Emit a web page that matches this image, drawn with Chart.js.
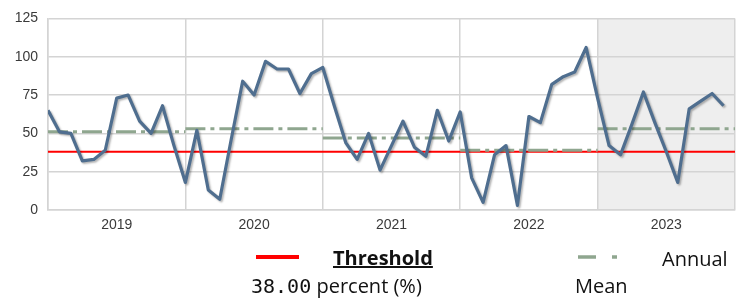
<!DOCTYPE html>
<html>
<head>
<meta charset="utf-8">
<script src="https://cdn.jsdelivr.net/npm/chart.js@4.4.1/dist/chart.umd.min.js"></script>
<style>
html,body{margin:0;padding:0;background:#fff;}
#wrap{position:relative;width:742px;height:302px;overflow:hidden;font-family:"Open Sans",sans-serif;color:#111;}
#chartBox{position:absolute;left:0;top:0;width:742px;height:240px;}
.lg{position:absolute;font-size:20px;line-height:20px;white-space:nowrap;}
.mono{font-family:"DejaVu Sans Mono",monospace;}
svg{position:absolute;left:0;top:0;}
</style>
</head>
<body>
<div id="wrap">
  <div id="chartBox"><canvas id="c"></canvas></div>
  <svg width="742" height="302">
    <line x1="256" y1="257" x2="299" y2="257" stroke="#ff0000" stroke-width="4"/>
    <line x1="578" y1="257" x2="596" y2="257" stroke="#8fa68f" stroke-width="3.5"/>
    <line x1="612" y1="257" x2="617" y2="257" stroke="#8fa68f" stroke-width="3.5"/>
  </svg>
  <div class="lg" style="left:333px;top:248px;font-weight:bold;text-decoration:underline;">Threshold</div>
  <div class="lg" style="left:251px;top:276px;"><span class="mono">38.00</span> percent (%)</div>
  <div class="lg" style="left:662px;top:249px;">Annual</div>
  <div class="lg" style="left:575px;top:276px;">Mean</div>
</div>
<script>
const years = ['2019', '2020', '2021', '2022', '2023'];
const values2019 = [65, 51, 50, 32, 33, 39, 73, 75, 58, 50, 68, 42];
const values2020 = [18, 52, 13, 7, 46, 84, 75, 97, 92, 92, 76, 89];
const values2021 = [93, 68, 44, 33, 50, 26, 42, 58, 41, 35, 65, 45];
const values2022 = [64, 21, 5, 36, 42, 3, 61, 57, 82, 87, 90, 106];
const values2023 = [73, 42, 36, 56, 77, 57, 38, 18, 66, 71, 76, 68];
const annualMeans = [51, 53, 47, 39, 53];
const thresholdValue = 38;
const yTickValues = [0, 25, 50, 75, 100, 125];
const highlightYear = '2023';

const monthlyValues = [].concat(values2019, values2020, values2021, values2022, values2023);
const nMonths = years.length * 12;

const gridColor = '#d4d4d4';
const mainColor = '#4f6e8f';
const meanColor = '#8fa68f';

Chart.defaults.font.family = '"Liberation Sans", Arial, sans-serif';
Chart.defaults.font.size = 14;
Chart.defaults.color = '#3a3a3a';

const highlightPlugin = {
  id: 'highlight',
  beforeDraw(chart) {
    const {ctx, chartArea, scales} = chart;
    const start = years.indexOf(highlightYear) * 12;
    const x0 = scales.x.getPixelForValue(start);
    const x1 = scales.x.getPixelForValue(start + 12);
    ctx.save();
    ctx.fillStyle = '#eeeeee';
    ctx.fillRect(x0, chartArea.top, x1 - x0, chartArea.bottom - chartArea.top);
    ctx.restore();
  }
};

const shadowPlugin = {
  id: 'lineShadow',
  beforeDatasetDraw(chart, args) {
    if (args.index === 0) {
      const ctx = chart.ctx;
      ctx.save();
      ctx.shadowColor = 'rgba(0,0,0,0.3)';
      ctx.shadowBlur = 2;
      ctx.shadowOffsetX = 1.5;
      ctx.shadowOffsetY = 1.5;
    }
  },
  afterDatasetDraw(chart, args) {
    if (args.index === 0) chart.ctx.restore();
  }
};

const meanPoints = [];
annualMeans.forEach((m, k) => {
  meanPoints.push({x: k * 12, y: m}, {x: k * 12 + 12, y: m}, {x: k * 12 + 12, y: null});
});

new Chart(document.getElementById('c'), {
  type: 'line',
  data: {
    datasets: [
      {
        label: 'Monthly',
        data: monthlyValues.map((v, i) => ({x: i, y: v})),
        borderColor: mainColor,
        borderWidth: 3.2,
        borderJoinStyle: 'round',
        pointRadius: 0,
        tension: 0,
        order: 0
      },
      {
        label: 'Annual Mean',
        data: meanPoints,
        borderColor: meanColor,
        borderWidth: 3,
        borderDash: [20, 5, 4, 5],
        pointRadius: 0,
        spanGaps: false,
        order: 1
      },
      {
        label: 'Threshold',
        data: [{x: 0, y: thresholdValue}, {x: nMonths, y: thresholdValue}],
        borderColor: '#ff0000',
        borderWidth: 2,
        pointRadius: 0,
        order: 2
      }
    ]
  },
  options: {
    responsive: true,
    maintainAspectRatio: false,
    animation: false,
    layout: {padding: {top: 15, right: 6, left: 0, bottom: 0}},
    plugins: {legend: {display: false}, tooltip: {enabled: false}},
    scales: {
      x: {
        type: 'linear',
        min: 0,
        max: nMonths,
        afterBuildTicks(scale) {
          const t = [];
          for (let v = 0; v <= nMonths; v += 6) t.push({value: v});
          scale.ticks = t;
        },
        afterFit(scale) { scale.height = 30; },
        ticks: {
          autoSkip: false,
          maxRotation: 0,
          padding: 7,
          callback: (v) => (v % 12 === 6 ? years[(v - 6) / 12] : '')
        },
        grid: {
          drawTicks: false,
          lineWidth: 1.5,
          color: (ctx) => (ctx.tick && ctx.tick.value % 12 === 0 ? gridColor : 'rgba(0,0,0,0)')
        },
        border: {display: true, color: gridColor, width: 1.5}
      },
      y: {
        min: 0,
        max: 125,
        afterBuildTicks(scale) { scale.ticks = yTickValues.map(v => ({value: v})); },
        afterFit(scale) { scale.width = 48; },
        ticks: {padding: 10},
        grid: {drawTicks: false, lineWidth: 1.5, color: gridColor},
        border: {display: true, color: gridColor, width: 1.5}
      }
    }
  },
  plugins: [highlightPlugin, shadowPlugin]
});
</script>
</body>
</html>
